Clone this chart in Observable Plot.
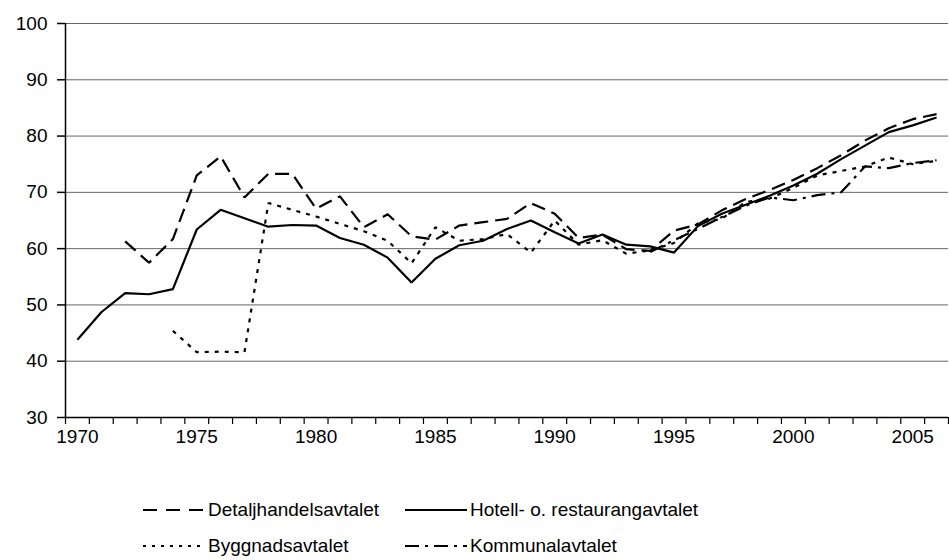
<!DOCTYPE html>
<html>
<head>
<meta charset="utf-8">
<script src="https://cdn.jsdelivr.net/npm/d3@7"></script>
<script src="https://cdn.jsdelivr.net/npm/@observablehq/plot@0.6"></script>
<style>
  html, body { margin: 0; padding: 0; background: #fff; }
  body { font-family: "Liberation Sans", Arial, sans-serif; width: 949px; height: 560px; overflow: hidden; }
  #legend { position: relative; width: 949px; height: 100px; font-size: 19px; color: #000; }
  .item { position: absolute; display: flex; align-items: center; height: 24px; }
  .item svg { display: block; margin-right: 3px; }
</style>
</head>
<body>
<div id="chart"></div>
<div id="legend"></div>
<script>
// ---- Data ----
const years = [1970,1971,1972,1973,1974,1975,1976,1977,1978,1979,
               1980,1981,1982,1983,1984,1985,1986,1987,1988,1989,
               1990,1991,1992,1993,1994,1995,1996,1997,1998,1999,
               2000,2001,2002,2003,2004,2005,2006];

const detaljhandel = [null,null,61.3,57.5,61.7,73.0,76.4,69.1,73.3,73.3,
                      67.1,69.3,63.8,66.1,62.2,61.6,64.1,64.7,65.3,68.1,
                      66.2,61.9,62.5,59.9,59.6,63.2,64.3,66.8,68.8,70.4,
                      72.2,74.3,76.6,79.2,81.4,83.0,83.9];

const hotell = [43.8,48.7,52.1,51.9,52.8,63.4,66.9,65.4,63.9,64.2,
                64.1,61.9,60.7,58.4,54.0,58.2,60.6,61.4,63.5,65.0,
                62.9,60.9,62.5,60.7,60.4,59.3,64.0,66.2,67.8,69.4,
                71.2,73.3,75.9,78.3,80.7,81.9,83.3];

const byggnad = [null,null,null,null,45.4,41.6,41.7,41.6,68.1,66.9,
                 65.7,64.4,63.1,61.4,57.4,63.8,61.4,61.7,62.6,59.3,
                 65.0,60.7,61.5,59.1,59.7,61.0,64.5,65.3,68.3,68.9,
                 70.8,73.0,73.8,74.6,76.2,75.0,75.6];

const kommunal = [null,null,null,null,null,null,null,null,null,null,
                  null,null,null,null,null,null,null,null,null,null,
                  null,null,null,null,59.4,61.5,63.5,65.6,67.6,69.1,
                  68.6,69.5,70.0,74.6,74.3,75.2,75.7];

const seriesNames = ["Detaljhandelsavtalet", "Hotell- o. restaurangavtalet",
                     "Byggnadsavtalet", "Kommunalavtalet"];

const yTicks = [30, 40, 50, 60, 70, 80, 90, 100];
const xTickLabels = [1970, 1975, 1980, 1985, 1990, 1995, 2000, 2005];

// ---- Styles ----
const dashes = {
  "Detaljhandelsavtalet": "14,7",
  "Hotell- o. restaurangavtalet": null,
  "Byggnadsavtalet": "4,6",
  "Kommunalavtalet": "14,6,3,6"
};

const valuesBySeries = {
  "Detaljhandelsavtalet": detaljhandel,
  "Hotell- o. restaurangavtalet": hotell,
  "Byggnadsavtalet": byggnad,
  "Kommunalavtalet": kommunal
};

function rows(name) {
  return years.map((y, i) => ({year: y, value: valuesBySeries[name][i], series: name}))
              .filter(d => d.value != null);
}

// category boundaries (ticks between categories)
const boundaries = years.map(y => y - 0.5).concat([years[years.length - 1] + 0.5]);

const lineMarks = seriesNames.map(name => Plot.line(rows(name), {
  x: "year", y: "value",
  stroke: "#000", strokeWidth: 2.2,
  strokeDasharray: dashes[name] || undefined,
  strokeLinejoin: "miter", strokeLinecap: "butt"
}));

const chart = Plot.plot({
  width: 949,
  height: 460,
  marginLeft: 65,
  marginRight: 1,
  marginTop: 23,
  marginBottom: 43,
  style: {fontFamily: "'Liberation Sans', Arial, sans-serif", fontSize: "19px", color: "#000", background: "#fff", overflow: "visible"},
  x: {domain: [boundaries[0], boundaries[boundaries.length - 1]]},
  y: {domain: [30, 100]},
  marks: [
    Plot.gridY(yTicks, {stroke: "#666", strokeOpacity: 1, strokeWidth: 1}),
    Plot.axisY(yTicks, {tickSize: 8, tickPadding: 10, label: null, fontSize: 19, stroke: "#000", strokeWidth: 1.5}),
    Plot.axisX(boundaries, {tickSize: 7, tickFormat: () => "", label: null, stroke: "#000", strokeWidth: 1.2}),
    Plot.axisX(xTickLabels, {tickSize: 0, tickPadding: 12, tickFormat: d => String(d), label: null, fontSize: 19}),
    Plot.ruleY([30], {stroke: "#000", strokeWidth: 1.5}),
    Plot.ruleX([boundaries[0]], {stroke: "#000", strokeWidth: 1.5}),
    ...lineMarks
  ]
});
document.getElementById("chart").appendChild(chart);

// ---- Legend ----
const legendPos = [
  {name: "Detaljhandelsavtalet", left: 143, top: 38},
  {name: "Hotell- o. restaurangavtalet", left: 405, top: 38},
  {name: "Byggnadsavtalet", left: 143, top: 74},
  {name: "Kommunalavtalet", left: 405, top: 74}
];
const legendDash = {
  "Detaljhandelsavtalet": "14,9",
  "Hotell- o. restaurangavtalet": null,
  "Byggnadsavtalet": "3,6",
  "Kommunalavtalet": "14,6,3,6"
};
const legend = d3.select("#legend");
legendPos.forEach(p => {
  const item = legend.append("div").attr("class", "item")
    .style("left", p.left + "px").style("top", p.top + "px");
  const s = item.append("svg").attr("width", 62).attr("height", 24);
  const ln = s.append("line").attr("x1", 0).attr("x2", 62).attr("y1", 12).attr("y2", 12)
    .attr("stroke", "#000").attr("stroke-width", 2.2);
  if (legendDash[p.name]) ln.attr("stroke-dasharray", legendDash[p.name]);
  item.append("span").text(p.name);
});
</script>
</body>
</html>
